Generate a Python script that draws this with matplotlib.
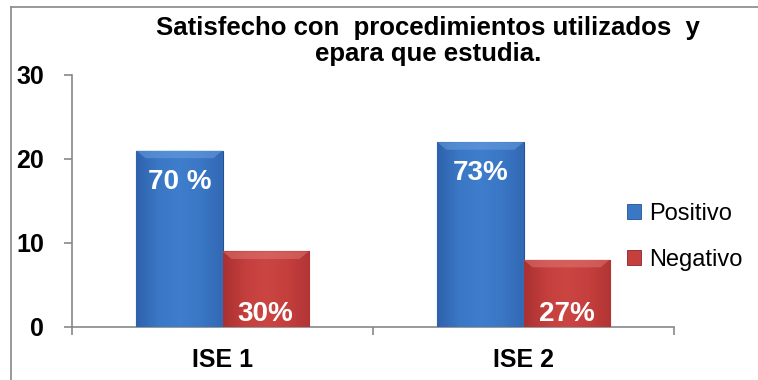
import numpy as np
import matplotlib.pyplot as plt
from matplotlib.colors import LinearSegmentedColormap
from matplotlib.patches import Patch
from matplotlib.lines import Line2D

plt.rcParams['font.family'] = ['Liberation Sans', 'DejaVu Sans']

categories = ["ISE 1", "ISE 2"]
positivo = [21, 22]
negativo = [9, 8]
positivo_labels = ["70 %", "73%"]
negativo_labels = ["30%", "27%"]
title = "Satisfecho con  procedimientos utilizados  y\nepara que estudia."

blue = ["#2f62ad", "#3a77c5", "#3f7ecd", "#3a77c5", "#3369b5"]
red = ["#a93131", "#c43f3d", "#cb4643", "#c43f3d", "#b23535"]
blue_top = "#6fa2e0"
red_top = "#e07a76"


def shade(ax, bars, colours, top):
    # soft left-right gradient clipped to each bar, plus a lighter bevel on top
    cmap = LinearSegmentedColormap.from_list("g", colours)
    grad = np.linspace(0, 1, 64).reshape(1, -1)
    for b in bars:
        x0, y0 = b.get_x(), b.get_y()
        w, h = b.get_width(), b.get_height()
        im = ax.imshow(grad, cmap=cmap, aspect="auto", extent=(x0, x0 + w, y0, y0 + h),
                       zorder=3, interpolation="bicubic")
        im.set_clip_path(b)
        bev = 0.9
        ax.fill([x0, x0 + w, x0 + w - 0.03, x0 + 0.03], [y0 + h, y0 + h, y0 + h - bev, y0 + h - bev],
                color=top, alpha=0.5, lw=0, zorder=4)


fig = plt.figure(figsize=(7.58, 3.8), dpi=100)
ax = fig.add_axes([72 / 758, 1 - 327 / 380, (674 - 72) / 758, (327 - 75) / 380])

x = np.arange(len(categories))
w = 0.286
bp = ax.bar(x - w / 2, positivo, w, color=blue[1], edgecolor="#24528f", lw=0.8, zorder=2)
bn = ax.bar(x + w / 2, negativo, w, color=red[1], edgecolor="#8c2424", lw=0.8, zorder=2)
shade(ax, bp, blue, blue_top)
shade(ax, bn, red, red_top)

for b, lab in zip(bp, positivo_labels):
    ax.annotate(lab, (b.get_x() + b.get_width() / 2, b.get_height()), xytext=(0, -13),
                textcoords="offset points", ha="center", va="top", color="white",
                fontsize=20, fontweight="bold", zorder=5)
for b, lab in zip(bn, negativo_labels):
    ax.annotate(lab, (b.get_x() + b.get_width() / 2, 0), xytext=(0, 0),
                textcoords="offset points", ha="center", va="bottom", color="white",
                fontsize=20, fontweight="bold", zorder=5)

ax.set_xlim(-0.5, 1.5)
ax.set_ylim(0, 30)
ax.set_yticks([0, 10, 20, 30])
ax.set_xticks([-0.5, 0.5, 1.5])
ax.set_xticklabels([])
ax.set_xticks(x, minor=True)
ax.set_xticklabels(categories, minor=True)
ax.tick_params(axis="x", which="minor", length=0, pad=15, labelsize=18)
ax.tick_params(axis="x", which="major", length=6, color="#888888", width=1.2)
ax.tick_params(axis="y", length=6, color="#888888", width=1.2, labelsize=18, pad=14)
for t in ax.get_xticklabels(minor=True) + ax.get_yticklabels():
    t.set_fontweight("bold")

for s in ["top", "right"]:
    ax.spines[s].set_visible(False)
for s in ["left", "bottom"]:
    ax.spines[s].set_color("#888888")
    ax.spines[s].set_linewidth(1.2)

fig.text(428 / 758, 1 - 16 / 380, title, ha="center", va="top", fontsize=18.5,
         fontweight="bold", linespacing=1.1)

handles = [Patch(facecolor=blue[1], edgecolor="#24528f", lw=0.6),
           Patch(facecolor=red[1], edgecolor="#8c2424", lw=0.6)]
fig.legend(handles, ["Positivo", "Negativo"], loc="center left",
           bbox_to_anchor=(610 / 758, 1 - 237 / 380), frameon=False, fontsize=17,
           handlelength=0.6, handleheight=0.6, handletextpad=0.35, labelspacing=1.0,
           borderpad=0.2)

# chart frame lines along the left and top
fig.add_artist(Line2D([11 / 758, 11 / 758], [0, 1 - 7 / 380], color="#888888", lw=1.2))
fig.add_artist(Line2D([11 / 758, 1], [1 - 7 / 380, 1 - 7 / 380], color="#888888", lw=1.2))

fig.savefig("out.png", dpi=100)
